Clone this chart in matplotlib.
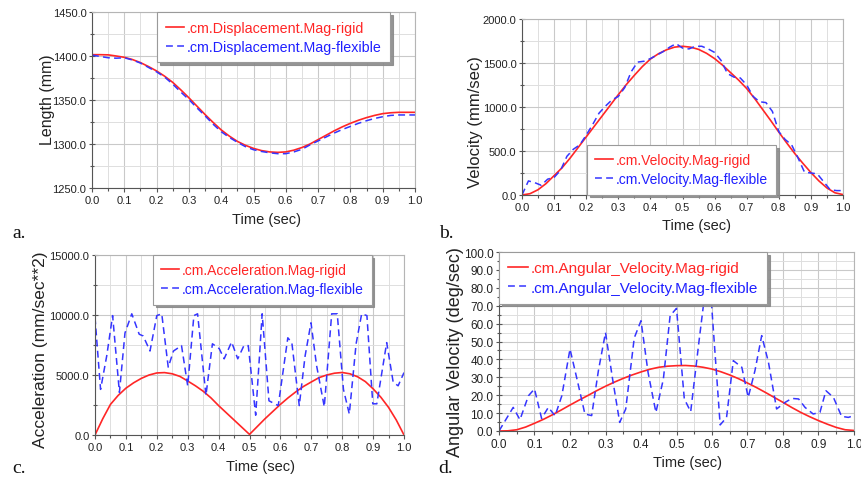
import matplotlib
matplotlib.use("Agg")
import matplotlib.pyplot as plt
from matplotlib.ticker import MultipleLocator, FormatStrFormatter

plt.rcParams['font.family'] = ['Liberation Sans', 'DejaVu Sans']

# ---------------- data ----------------
t_fine = [round(i * 0.025, 3) for i in range(41)]

disp_rigid = [1401.5, 1401.5, 1401.3, 1400, 1398.5, 1396, 1392.5, 1388, 1383, 1377,
              1370, 1361.5, 1352.5, 1343, 1333.5, 1324.5, 1316, 1309, 1303, 1298.5,
              1295, 1292.5, 1291, 1290.5, 1291, 1293, 1296, 1300, 1305, 1310,
              1315, 1319.5, 1323.5, 1327, 1330, 1332.5, 1334.5, 1335.5, 1336, 1336, 1336]
disp_flex = [1401, 1399.5, 1398, 1397.5, 1398, 1395.5, 1392, 1387, 1382, 1376,
             1368, 1359, 1350.5, 1341, 1332, 1322.5, 1314, 1307.5, 1302, 1297,
             1293.5, 1291.5, 1290, 1289, 1289, 1291, 1294, 1299, 1303.5, 1308,
             1312.5, 1316.5, 1320, 1323.5, 1326.5, 1329, 1331, 1332.5, 1333, 1333, 1333]

vel_rigid = [0, 15, 60, 130, 220, 310, 420, 540, 660, 780,
             900, 1020, 1140, 1255, 1360, 1460, 1545, 1605, 1650, 1680,
             1690, 1680, 1655, 1610, 1550, 1475, 1390, 1305, 1210, 1095,
             970, 845, 715, 590, 470, 360, 255, 160, 80, 25, 5]
t_vel_flex = [0.0, 0.02, 0.04, 0.06, 0.08, 0.1, 0.12, 0.14, 0.16, 0.18, 0.2, 0.22, 0.24,
              0.26, 0.28, 0.3, 0.32, 0.34, 0.36, 0.38, 0.4, 0.42, 0.44, 0.46, 0.48, 0.5,
              0.52, 0.54, 0.56, 0.58, 0.6, 0.62, 0.64, 0.66, 0.68, 0.7, 0.72, 0.74, 0.76,
              0.78, 0.8, 0.82, 0.84, 0.86, 0.88, 0.9, 0.92, 0.94, 0.96, 0.98, 1.0]
vel_flex = [0, 160, 140, 110, 180, 200, 280, 440, 520, 570, 680, 800, 930,
            1010, 1080, 1120, 1220, 1400, 1510, 1520, 1550, 1590, 1630, 1680, 1720, 1670,
            1660, 1690, 1690, 1660, 1620, 1530, 1380, 1340, 1330, 1250, 1120, 1060, 1050,
            950, 720, 630, 570, 420, 260, 250, 240, 150, 60, 50, 50]

acc_rigid = [0, 1350, 2550, 3300, 3900, 4350, 4720, 5000, 5170, 5200,
             5100, 4880, 4500, 4100, 3650, 3100, 2450, 1850, 1250, 650,
             50, 700, 1350, 1950, 2550, 3100, 3600, 4050, 4420, 4780,
             5000, 5150, 5210, 5100, 4850, 4450, 3850, 3150, 2300, 1250, 0]
t_acc_flex = [0.0, 0.018, 0.038, 0.057, 0.079, 0.097, 0.119, 0.143, 0.156, 0.178,
              0.2, 0.216, 0.237, 0.254, 0.28, 0.3, 0.32, 0.332, 0.359, 0.38,
              0.402, 0.418, 0.442, 0.462, 0.482, 0.496, 0.52, 0.541, 0.563, 0.593,
              0.624, 0.637, 0.661, 0.68, 0.699, 0.717, 0.742, 0.766, 0.784, 0.804,
              0.823, 0.845, 0.863, 0.88, 0.899, 0.912, 0.944, 0.965, 0.981, 1.0]
acc_flex = [9800, 3800, 6600, 9950, 3550, 8500, 10100, 8400, 8250, 7000,
            9950, 10100, 5650, 7000, 7450, 4100, 9950, 10100, 3300, 7600,
            7200, 6350, 7750, 6350, 7450, 7450, 1650, 10100, 2850, 2450,
            8100, 7700, 2450, 6600, 9350, 5800, 2350, 10100, 10100, 3800,
            1750, 7600, 10100, 9950, 2600, 2600, 7700, 4400, 4100, 5200]

ang_rigid = [0, 0.1, 0.7, 2.2, 4.3, 6.5, 9, 11.7, 14.5, 17.2,
             19.8, 22.5, 25, 27.3, 29.4, 31.3, 33, 34.5, 35.6, 36.2,
             36.5, 36.6, 36.3, 35.6, 34.6, 33.1, 31.3, 29.2, 26.8, 24.3,
             21.6, 18.8, 16, 13.1, 10.4, 8, 5.8, 3.8, 2, 0.7, 0.3]
t_ang_flex = [0.0, 0.04, 0.059, 0.083, 0.1, 0.12, 0.139, 0.158, 0.177, 0.2,
              0.222, 0.242, 0.261, 0.28, 0.3, 0.32, 0.34, 0.357, 0.381, 0.4,
              0.42, 0.442, 0.463, 0.482, 0.5, 0.522, 0.54, 0.563, 0.585, 0.599,
              0.623, 0.641, 0.66, 0.684, 0.702, 0.721, 0.74, 0.759, 0.782, 0.806,
              0.825, 0.844, 0.862, 0.885, 0.904, 0.921, 0.942, 0.965, 0.984, 1.0]
ang_flex = [0, 13.2, 6.3, 19.7, 23.5, 7, 13.2, 8.5, 19.7, 45.8,
            27, 9.5, 8.6, 33.7, 55, 29, 4.8, 12.3, 52, 61.6,
            32.6, 10.4, 29, 64.4, 68.5, 17.9, 10.8, 49.5, 85, 70,
            3.4, 7.6, 39.3, 35.6, 18.8, 33.7, 53.3, 38.4, 12.3, 16,
            18.2, 17.9, 13.2, 9.5, 10.4, 22.5, 18.8, 8.2, 7.6, 8.6]

# ---------------- styling ----------------
W, H = 862, 481
RED = '#ff2626'
BLUE = '#3535ff'

fig = plt.figure(figsize=(W / 100, H / 100), dpi=100)


def add_axes(l, r, t, b):
    return fig.add_axes([l / W, 1 - b / H, (r - l) / W, (b - t) / H])


def style(ax, ylim, ymaj, ymin_step, tick_fs=8):
    ax.set_xlim(0, 1)
    ax.set_ylim(*ylim)
    ax.xaxis.set_major_locator(MultipleLocator(0.1))
    ax.xaxis.set_minor_locator(MultipleLocator(0.05))
    ax.yaxis.set_major_locator(MultipleLocator(ymaj))
    ax.yaxis.set_minor_locator(MultipleLocator(ymin_step))
    ax.xaxis.set_major_formatter(FormatStrFormatter('%.1f'))
    ax.yaxis.set_major_formatter(FormatStrFormatter('%.1f'))
    ax.grid(True, which='major', color='#c9c9c9', lw=0.8)
    ax.grid(True, which='minor', color='#dedede', lw=0.7)
    ax.set_axisbelow(True)
    for s in ('left', 'bottom'):
        ax.spines[s].set_color('#555555')
    for s in ('top', 'right'):
        ax.spines[s].set_color('#b5b5b5')
    ax.tick_params(which='both', labelsize=tick_fs, colors='#555555',
                   labelcolor='#222222', width=0.8, pad=2)
    ax.tick_params(axis='y', which='major', direction='inout', length=4)
    ax.tick_params(axis='y', which='minor', direction='inout', length=3)
    ax.tick_params(axis='x', which='major', direction='out', length=3)
    ax.tick_params(axis='x', which='minor', direction='out', length=2)


def legend(ax, x, y, fs=10):
    lg = ax.legend(loc='upper left', bbox_to_anchor=(x / W, 1 - y / H),
                   bbox_transform=fig.transFigure, borderaxespad=0,
                   fontsize=fs, frameon=True, fancybox=False,
                   shadow={'color': '#8a8a8a', 'alpha': 0.9},
                   handlelength=1.3, handletextpad=0.15, labelspacing=0.35,
                   borderpad=0.6)
    lg.get_frame().set_edgecolor('#9a9a9a')
    lg.get_frame().set_linewidth(0.8)
    cols = [RED, '#2020ff']
    for txt, c in zip(lg.get_texts(), cols):
        txt.set_color(c)
    return lg


def labels(ax, xl, yl, xc, yc, ylx, yly, xfs=10.5, yfs=11.5):
    # place axis labels (given centers in pixel coords)
    fig.text(xc / W, 1 - yc / H, xl, ha='center', va='center', fontsize=xfs, color='#222222')
    fig.text(ylx / W, 1 - yly / H, yl, ha='center', va='center', rotation=90,
             fontsize=yfs, color='#222222')


dash = (0, (4.5, 2.8))

# ---- a ----
ax = add_axes(92, 415, 13, 189)
ax.plot(t_fine, disp_rigid, color=RED, lw=1.2, label='.cm.Displacement.Mag-rigid')
ax.plot(t_fine, disp_flex, color=BLUE, lw=1.1, ls=dash, label='.cm.Displacement.Mag-flexible')
style(ax, (1250, 1450), 50, 25)
legend(ax, 157, 13, fs=10.3)
labels(ax, 'Time (sec)', 'Length (mm)', 267, 220, 48, 100, yfs=11.5)

# ---- b ----
ax = add_axes(522, 843, 20, 196)
ax.plot(t_fine, vel_rigid, color=RED, lw=1.2, label='.cm.Velocity.Mag-rigid')
ax.plot(t_vel_flex, vel_flex, color=BLUE, lw=1.1, ls=dash, label='.cm.Velocity.Mag-flexible')
style(ax, (0, 2000), 500, 250)
legend(ax, 587, 146, fs=10)
labels(ax, 'Time (sec)', 'Velocity (mm/sec)', 697, 226, 476, 122, yfs=12)

# ---- c ----
ax = add_axes(95, 404, 256, 436)
ax.plot(t_fine, acc_rigid, color=RED, lw=1.2, label='.cm.Acceleration.Mag-rigid')
ax.plot(t_acc_flex, acc_flex, color=BLUE, lw=1.1, ls=dash, label='.cm.Acceleration.Mag-flexible')
style(ax, (0, 15000), 5000, 2500)
legend(ax, 153, 256, fs=10)
labels(ax, 'Time (sec)', 'Acceleration (mm/sec**2)', 260, 467, 41, 350, yfs=12.5)

# ---- d ----
ax = add_axes(499, 854, 253, 432)
ax.plot(t_fine, ang_rigid, color=RED, lw=1.2, label='.cm.Angular_Velocity.Mag-rigid')
ax.plot(t_ang_flex, ang_flex, color=BLUE, lw=1.1, ls=dash, label='.cm.Angular_Velocity.Mag-flexible')
style(ax, (0, 100), 10, 5, tick_fs=8.5)
legend(ax, 499, 253, fs=11)
labels(ax, 'Time (sec)', 'Angular Velocity (deg/sec)', 688, 463, 455, 352, yfs=13)

# panel letters
for s, x, y in (('a.', 12, 238), ('b.', 439, 238), ('c.', 12, 473), ('d.', 438, 473)):
    fig.text(x / W, 1 - y / H, s, fontsize=14, family=['Liberation Serif', 'DejaVu Serif'],
             ha='left', va='baseline', color='#111111')

fig.savefig('out.png', dpi=100)
